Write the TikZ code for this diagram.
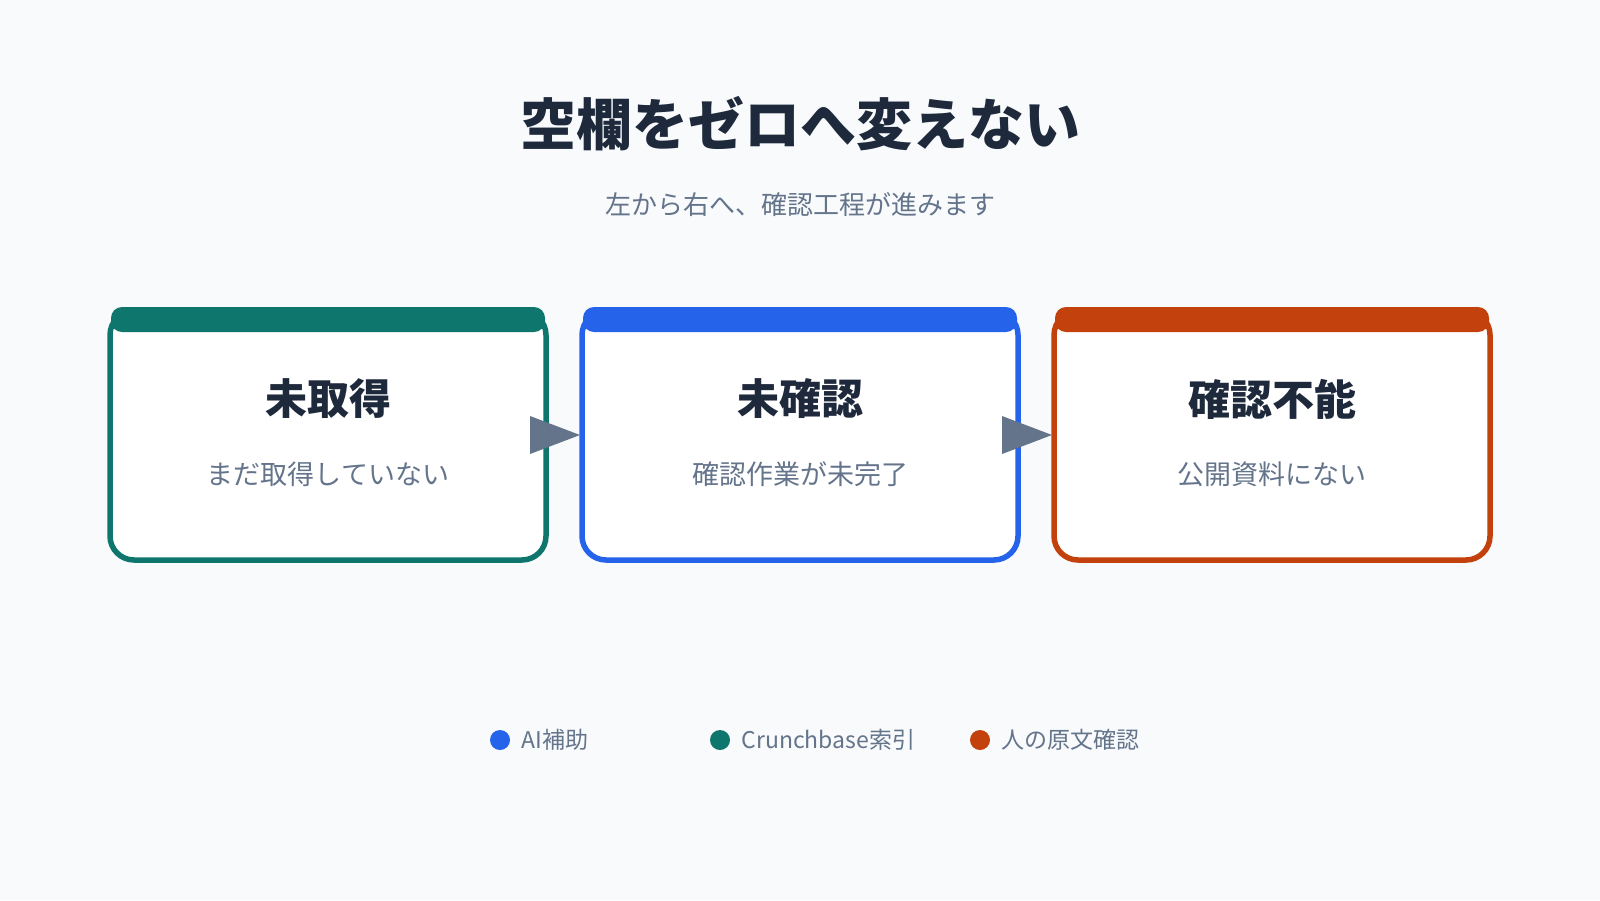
\documentclass[tikz,border=0pt]{standalone}
\usepackage{fontspec}
\setmainfont{Noto Sans CJK JP}
\definecolor{bg}{HTML}{F8FAFC}
\definecolor{teal}{HTML}{0F766E}
\definecolor{blue}{HTML}{2563EB}
\definecolor{orng}{HTML}{C2410C}
\definecolor{dark}{HTML}{1E293B}
\definecolor{gray}{HTML}{64748B}
\begin{document}
\begin{tikzpicture}[x=1pt,y=-1pt,
  box/.style={draw=#1,line width=5.5pt,fill=white,rounded corners=24pt},
  band/.style={fill=#1,rounded corners=11pt},
  ttl/.style={text=dark,font=\fontsize{42}{48}\selectfont\bfseries},
  sub/.style={text=gray,font=\fontsize{27}{32}\selectfont},
  sub2/.style={text=gray,font=\fontsize{26}{30}\selectfont},
  leg/.style={text=gray,font=\fontsize{23}{27}\selectfont,anchor=west},
  arr/.style={fill=gray}]
\fill[bg] (0,0) rectangle (1600,900);
\useasboundingbox (0,0) rectangle (1600,900);
\node[text=dark,font=\fontsize{56}{64}\selectfont\bfseries] (title) at (800,124) {空欄をゼロへ変えない};
\node[sub2] (subt) at (800,205) {左から右へ、確認工程が進みます};
\foreach \n/\x/\c/\t/\s in {a/110/teal/未取得/まだ取得していない, b/582/blue/未確認/確認作業が未完了, c/1054/orng/確認不能/公開資料にない}{
  \draw[box=\c] (\x,311) rectangle ++(436,249);
  \fill[band=\c] (\x+1,307) rectangle ++(434,25);
  \node[ttl] (\n t) at (\x+218,399) {\t};
  \node[sub] (\n s) at (\x+218,474) {\s};
}
\coordinate (a1) at (530,416); \coordinate (a2) at (530,454); \coordinate (a3) at (580,435);
\fill[arr] (a1) -- (a3) -- (a2) -- cycle;
\coordinate (b1) at (1002,416); \coordinate (b2) at (1002,454); \coordinate (b3) at (1052,435);
\fill[arr] (b1) -- (b3) -- (b2) -- cycle;
\fill[blue] (500,740) circle (10);
\node[leg] (l1) at (518,740) {AI補助};
\fill[teal] (720,740) circle (10);
\node[leg] (l2) at (738,740) {Crunchbase索引};
\fill[orng] (980,740) circle (10);
\node[leg] (l3) at (998,740) {人の原文確認};
\end{tikzpicture}
\end{document}
